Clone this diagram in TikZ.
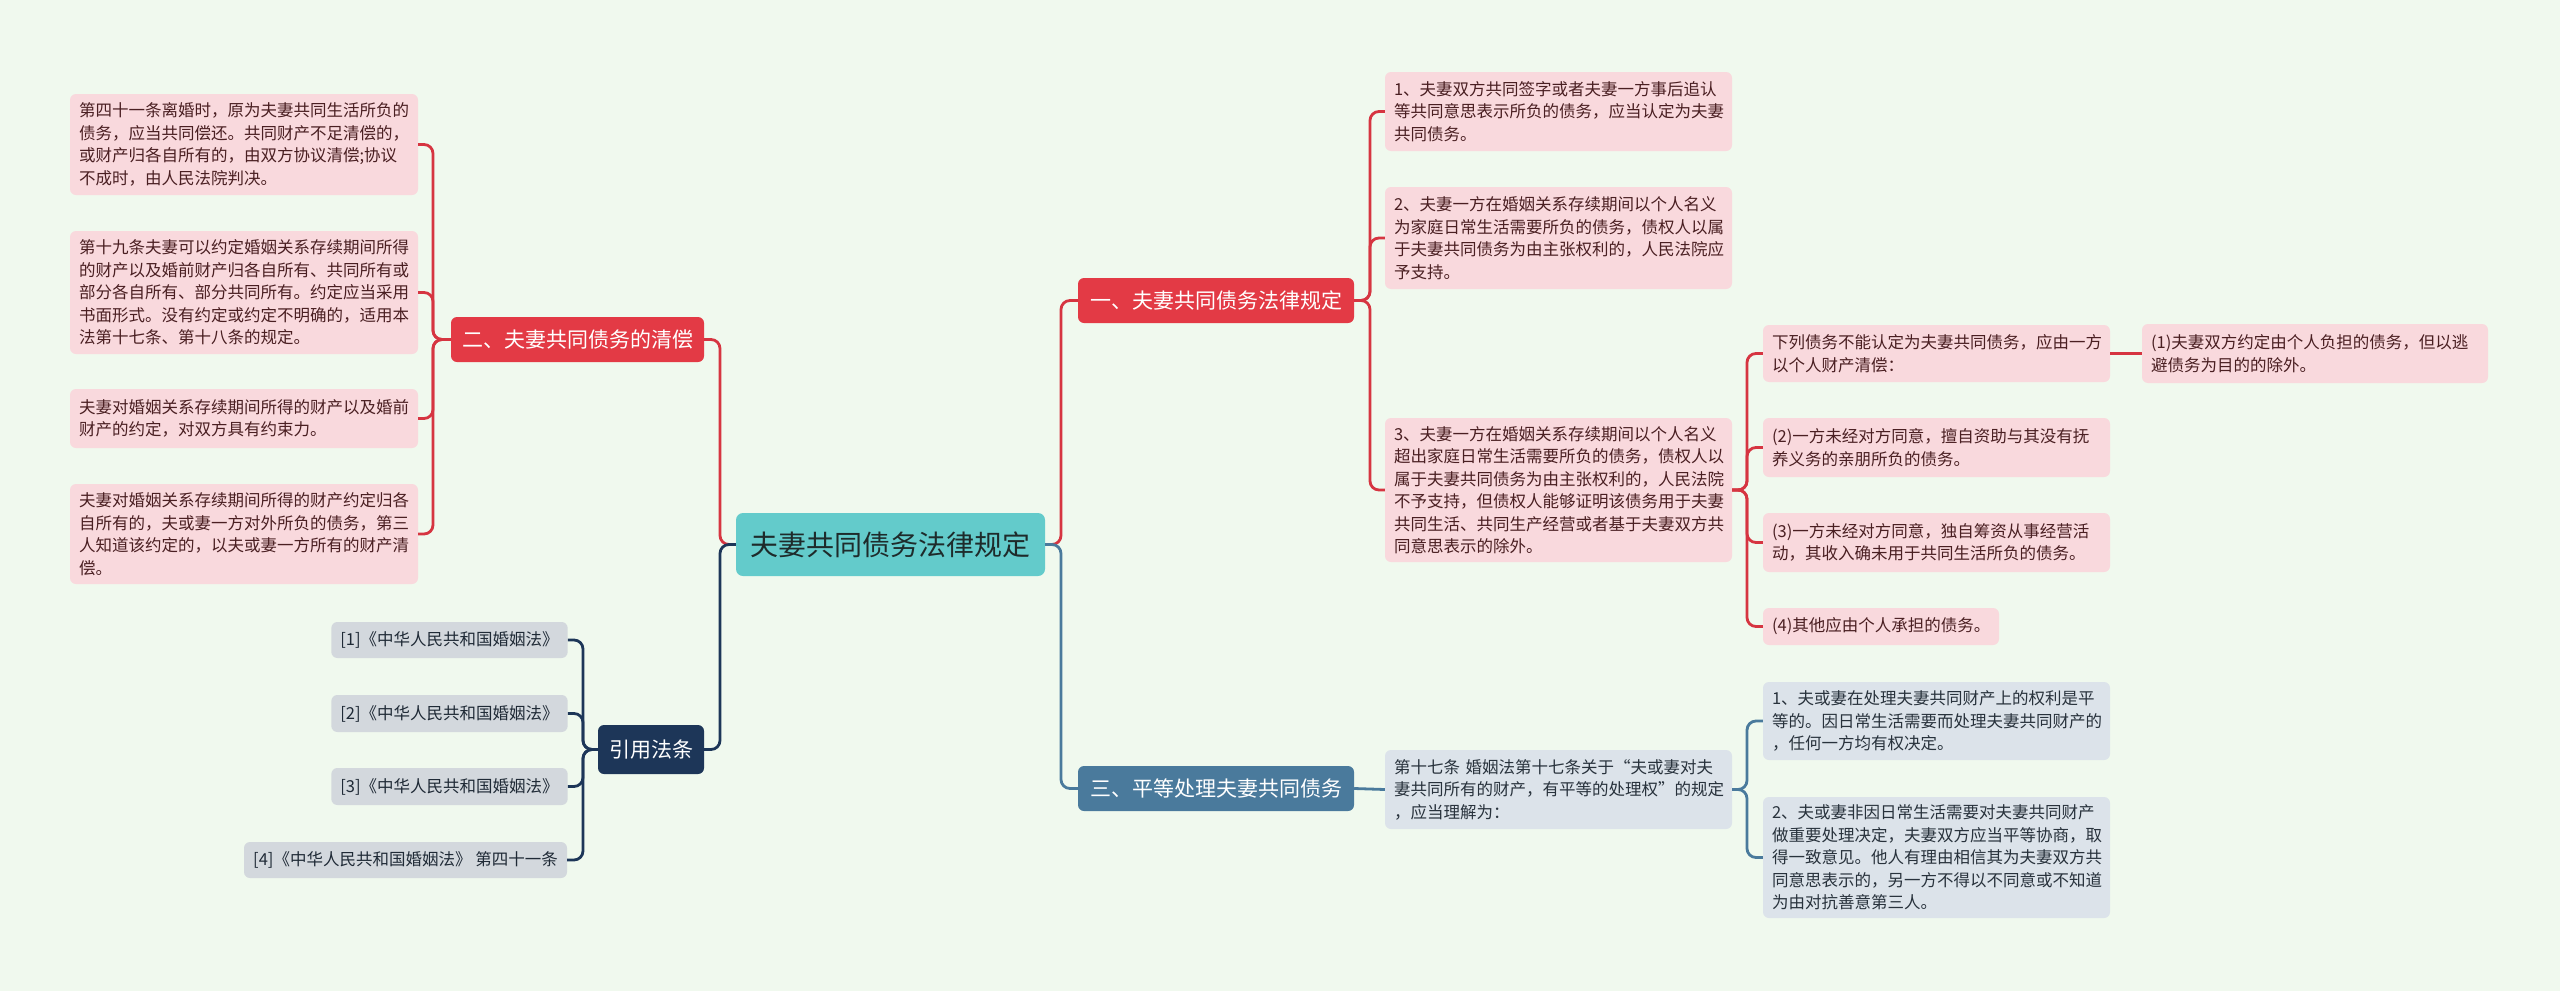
\documentclass[tikz,border=0pt]{standalone}
\usepackage{fontspec}
\setmainfont{Noto Sans CJK SC}
\definecolor{bgc}{HTML}{F0F9EE}
\definecolor{pinkfill}{HTML}{F9D9DD}
\definecolor{pinktext}{HTML}{4A1F22}
\definecolor{redfill}{HTML}{E33A45}
\definecolor{redline}{HTML}{D63541}
\definecolor{bluefill}{HTML}{4A7A9C}
\definecolor{blueline}{HTML}{4A7A9C}
\definecolor{bgleaf}{HTML}{DCE3EA}
\definecolor{bgtext}{HTML}{28323C}
\definecolor{grayleaf}{HTML}{D3D8DD}
\definecolor{graytext}{HTML}{1F2A36}
\definecolor{navy}{HTML}{1D3658}
\definecolor{rootfill}{HTML}{63CBCB}
\definecolor{roottext}{HTML}{1E2B2B}
\tikzset{
  box/.style={rounded corners=6pt, inner xsep=9pt, inner ysep=0pt, align=left,
    font=\fontsize{16.5}{22.5}\selectfont},
  pinkleaf/.style={box, fill=pinkfill, text=pinktext},
  bleaf/.style={box, fill=bgleaf, text=bgtext},
  gleaf/.style={box, fill=grayleaf, text=graytext, align=center},
  branch/.style={rounded corners=6pt, inner sep=0pt, align=center, text=white,
    font=\fontsize{21}{25}\selectfont},
  rootbox/.style={rounded corners=7pt, inner sep=0pt, fill=rootfill, text=roottext,
    font=\fontsize{28}{32}\selectfont},
  link/.style={line width=2.8pt, rounded corners=9pt},
}
\begin{document}
\begin{tikzpicture}[x=1pt,y=-1pt]
\fill[bgc] (0,0) rectangle (2560,991);
\useasboundingbox (0,0) rectangle (2560,991);

% root and branches
\node[rootbox, minimum width=309pt, minimum height=63pt] (root) at (890.5,544.5) {夫妻共同债务法律规定};
\node[branch, fill=redfill, minimum width=276pt, minimum height=45pt] (b1) at (1216,300.5) {一、夫妻共同债务法律规定};
\node[branch, fill=bluefill, minimum width=276pt, minimum height=45pt] (b3) at (1216,788.5) {三、平等处理夫妻共同债务};
\node[branch, fill=redfill, minimum width=253pt, minimum height=45pt] (b2) at (577.5,339.5) {二、夫妻共同债务的清偿};
\node[branch, fill=navy, minimum width=106pt, minimum height=49pt] (b4) at (651,749.5) {引用法条};

% left pink leaves
\node[pinkleaf, minimum width=348pt, text width=330pt, minimum height=101pt] (l1) at (244,144.5)
{第四十一条离婚时，原为夫妻共同生活所负的\\债务，应当共同偿还。共同财产不足清偿的，\\或财产归各自所有的，由双方协议清偿;协议\\不成时，由人民法院判决。};
\node[pinkleaf, minimum width=348pt, text width=330pt, minimum height=123pt] (l2) at (244,292.5)
{第十九条夫妻可以约定婚姻关系存续期间所得\\的财产以及婚前财产归各自所有、共同所有或\\部分各自所有、部分共同所有。约定应当采用\\书面形式。没有约定或约定不明确的，适用本\\法第十七条、第十八条的规定。};
\node[pinkleaf, minimum width=348pt, text width=330pt, minimum height=59pt] (l3) at (244,418.5)
{夫妻对婚姻关系存续期间所得的财产以及婚前\\财产的约定，对双方具有约束力。};
\node[pinkleaf, minimum width=348pt, text width=330pt, minimum height=100pt] (l4) at (244,534)
{夫妻对婚姻关系存续期间所得的财产约定归各\\自所有的，夫或妻一方对外所负的债务，第三\\人知道该约定的，以夫或妻一方所有的财产清\\偿。};

% citations
\node[gleaf, minimum width=235pt, minimum height=36pt] (c1) at (449.5,640) {[1]《中华人民共和国婚姻法》};
\node[gleaf, minimum width=235pt, minimum height=37pt] (c2) at (449.5,713.5) {[2]《中华人民共和国婚姻法》};
\node[gleaf, minimum width=235pt, minimum height=37pt] (c3) at (449.5,786.5) {[3]《中华人民共和国婚姻法》};
\node[gleaf, minimum width=323pt, minimum height=36pt] (c4) at (405.5,860) {[4]《中华人民共和国婚姻法》 第四十一条};

% right side, branch one
\node[pinkleaf, minimum width=347pt, text width=329pt, minimum height=79pt] (r1) at (1558.5,111.5)
{1、夫妻双方共同签字或者夫妻一方事后追认\\等共同意思表示所负的债务，应当认定为夫妻\\共同债务。};
\node[pinkleaf, minimum width=347pt, text width=329pt, minimum height=102pt] (r2) at (1558.5,238)
{2、夫妻一方在婚姻关系存续期间以个人名义\\为家庭日常生活需要所负的债务，债权人以属\\于夫妻共同债务为由主张权利的，人民法院应\\予支持。};
\node[pinkleaf, minimum width=347pt, text width=329pt, minimum height=144pt] (r3) at (1558.5,490)
{3、夫妻一方在婚姻关系存续期间以个人名义\\超出家庭日常生活需要所负的债务，债权人以\\属于夫妻共同债务为由主张权利的，人民法院\\不予支持，但债权人能够证明该债务用于夫妻\\共同生活、共同生产经营或者基于夫妻双方共\\同意思表示的除外。};

\node[pinkleaf, minimum width=347pt, text width=329pt, minimum height=57pt] (s1) at (1936.5,353.5)
{下列债务不能认定为夫妻共同债务，应由一方\\以个人财产清偿：};
\node[pinkleaf, minimum width=347pt, text width=329pt, minimum height=59pt] (s2) at (1936.5,447.5)
{(2)一方未经对方同意，擅自资助与其没有抚\\养义务的亲朋所负的债务。};
\node[pinkleaf, minimum width=347pt, text width=329pt, minimum height=59pt] (s3) at (1936.5,542.5)
{(3)一方未经对方同意，独自筹资从事经营活\\动，其收入确未用于共同生活所负的债务。};
\node[pinkleaf, minimum width=236pt, text width=218pt, minimum height=37pt] (s4) at (1881,626.5)
{(4)其他应由个人承担的债务。};
\node[pinkleaf, minimum width=346pt, text width=328pt, minimum height=59pt] (p1) at (2315,353.5)
{(1)夫妻双方约定由个人负担的债务，但以逃\\避债务为目的的除外。};

% branch three
\node[bleaf, minimum width=347pt, text width=329pt, minimum height=79pt] (t1) at (1558.5,789.5)
{第十七条 婚姻法第十七条关于“夫或妻对夫\\妻共同所有的财产，有平等的处理权”的规定\\，应当理解为：};
\node[bleaf, minimum width=347pt, text width=329pt, minimum height=78pt] (u1) at (1936.5,721)
{1、夫或妻在处理夫妻共同财产上的权利是平\\等的。因日常生活需要而处理夫妻共同财产的\\，任何一方均有权决定。};
\node[bleaf, minimum width=347pt, text width=329pt, minimum height=121pt] (u2) at (1936.5,857.5)
{2、夫或妻非因日常生活需要对夫妻共同财产\\做重要处理决定，夫妻双方应当平等协商，取\\得一致意见。他人有理由相信其为夫妻双方共\\同意思表示的，另一方不得以不同意或不知道\\为由对抗善意第三人。};

% trunk coordinates
\coordinate (tr) at (1061,0);
\coordinate (tl) at (720,0);
\coordinate (t1x) at (1370,0);
\coordinate (t2x) at (433,0);
\coordinate (t4x) at (583,0);
\coordinate (tr3) at (1747,0);
\coordinate (tt1) at (1747,0);

% connectors
\draw[link, redline] (root.east) -| (tr |- b1.west) -- (b1.west);
\draw[link, blueline] (root.east) -| (tr |- b3.west) -- (b3.west);
\draw[link, redline] (root.west) -| (tl |- b2.east) -- (b2.east);
\draw[link, navy] (root.west) -| (tl |- b4.east) -- (b4.east);

\foreach \c in {r1,r2,r3}
  \draw[link, redline] (b1.east) -| (t1x |- \c.west) -- (\c.west);
\foreach \c in {l1,l2,l3,l4}
  \draw[link, redline] (b2.west) -| (t2x |- \c.east) -- (\c.east);
\foreach \c in {c1,c2,c3,c4}
  \draw[link, navy] (b4.west) -| (t4x |- \c.east) -- (\c.east);
\foreach \c in {s1,s2,s3,s4}
  \draw[link, redline] (r3.east) -| (tr3 |- \c.west) -- (\c.west);
\draw[link, redline] (s1.east) -- (p1.west);
\draw[link, blueline] (b3.east) -- (t1.west);
\foreach \c in {u1,u2}
  \draw[link, blueline] (t1.east) -| (tt1 |- \c.west) -- (\c.west);
\end{tikzpicture}
\end{document}
